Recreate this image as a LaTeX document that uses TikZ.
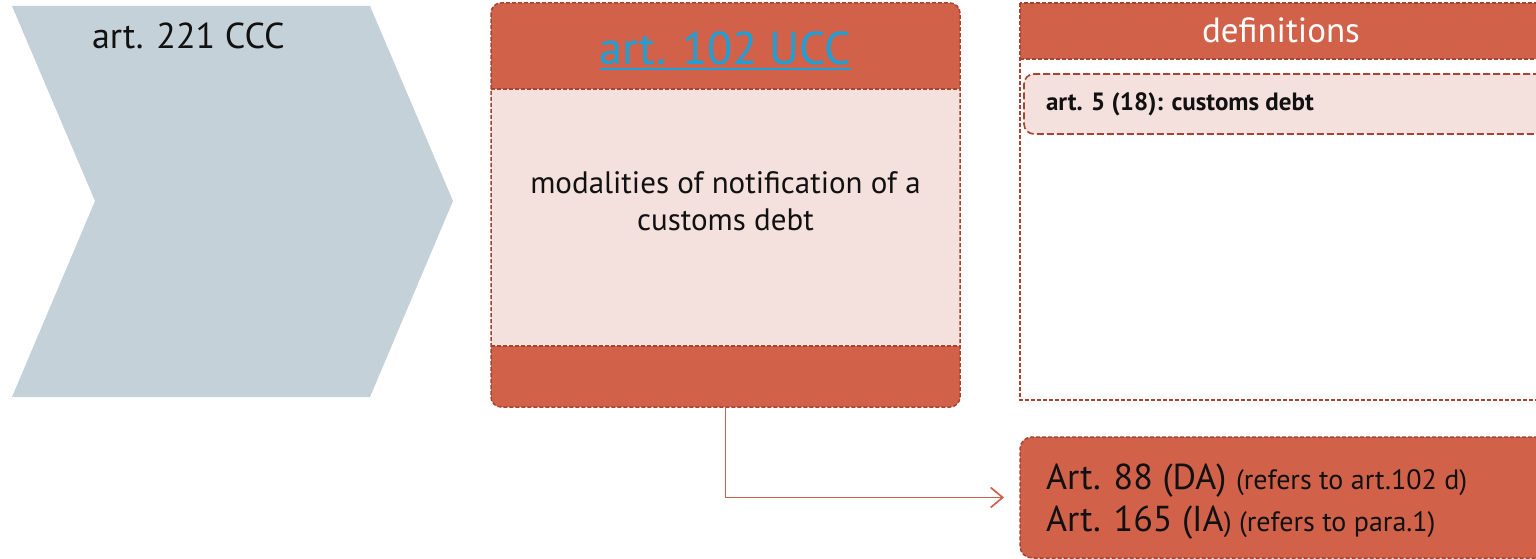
\documentclass[tikz,border=0pt]{standalone}
\usepackage{fontspec}
\setmainfont{PT Sans}
\usetikzlibrary{arrows.meta}
\definecolor{ecred}{HTML}{D16249}
\definecolor{ecborder}{HTML}{A8432F}
\definecolor{ecpink}{HTML}{F4E0DC}
\definecolor{ecgray}{HTML}{C5D1D8}
\definecolor{ecblue}{HTML}{1BA0D8}
\definecolor{ectext}{HTML}{111111}
\tikzset{
  dashborder/.style={draw=ecborder, line width=1.5pt, dash pattern=on 4pt off 2pt},
  longdash/.style={draw=ecborder, line width=1.6pt, dash pattern=on 7pt off 3pt},
  conn/.style={draw=ecred, line width=1.7pt, -{Straight Barb[length=12pt,width=20pt,line width=1.7pt]}},
  anchorbox/.style={inner sep=0pt, outer sep=0pt},
  txt/.style={inner sep=0pt, outer sep=0pt, text=ectext}
}
\begin{document}
\begin{tikzpicture}[x=1pt,y=-1pt]
\useasboundingbox (0,0) rectangle (1536,559);
\clip (0,0) rectangle (1536,559);
% chevron
\fill[ecgray] (12,6) -- (370,6) -- (453,201) -- (370,397) -- (12,397) -- (95,201) -- cycle;
\node[txt, anchor=base west, font=\fontsize{36}{40}\selectfont] (ccc) at (92,49) {art. 221 CCC};
% middle box
\node[anchorbox, minimum width=469pt, minimum height=404pt] (ucc) at (725.5,205) {};
\fill[ecred, rounded corners=10pt] (491,3) rectangle (960,407);
\fill[ecpink] (491,89) rectangle (960,346);
\draw[dashborder, rounded corners=10pt] (491,3) rectangle (960,407);
\draw[dashborder] (491,89) -- (960,89);
\draw[dashborder] (491,346) -- (960,346);
\node[txt, text=ecblue, anchor=base, font=\fontsize{46}{50}\selectfont] (ucctitle) at (725.5,65) {art. 102 UCC};
\draw[ecblue, line width=2pt] (ucctitle.west |- 0,69) -- (ucctitle.east |- 0,69);
\node[txt, anchor=base, align=center, font=\fontsize{31}{37}\selectfont] (uccbody) at (725.5,230) {modalities of notification of a\\customs debt};
% definitions box
\node[anchorbox, minimum width=540pt, minimum height=397pt] (defs) at (1290,201.5) {};
\fill[ecred] (1020,3) rectangle (1560,59);
\draw[dashborder] (1020,3) rectangle (1560,400);
\draw[dashborder] (1020,59) -- (1560,59);
\node[txt, text=white, anchor=base, font=\fontsize{35}{38}\selectfont] (deftitle) at (1281,43) {definitions};
\node[anchorbox, minimum width=536pt, minimum height=60pt, rounded corners=10pt, fill=ecpink, longdash] (art5) at (1292,104) {};
\node[txt, anchor=base west, font=\fontsize{25}{28}\selectfont\bfseries] (art5txt) at (1046,111) {art. 5 (18): customs debt};
% refs box
\node[anchorbox, minimum width=560pt, minimum height=121pt, rounded corners=12pt, fill=ecred, dashborder] (refs) at (1300,497.5) {};
\node[txt, anchor=base west, font=\fontsize{36}{40}\selectfont] (refa) at (1046,489) {Art. 88 (DA) {\fontsize{28}{30}\selectfont(refers to art.102 d)}};
\node[txt, anchor=base west, font=\fontsize{36}{40}\selectfont] (refb) at (1046,531) {Art. 165 (IA{\fontsize{28}{30}\selectfont) (refers to para.1)}};
% connector
\draw[conn, shorten >=16pt] (ucc.south) |- (refs.west);
\end{tikzpicture}
\end{document}
